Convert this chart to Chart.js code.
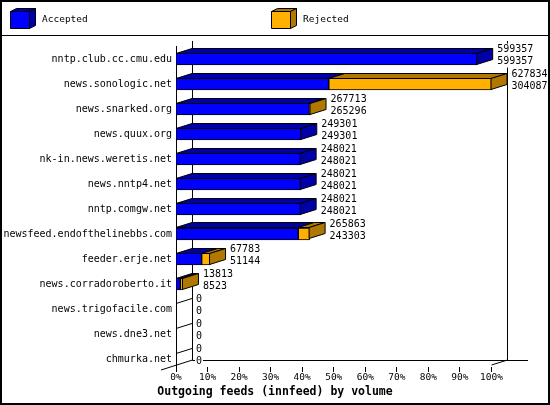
<!DOCTYPE html>
<html>
<head>
<meta charset="utf-8">
<script src="https://cdn.jsdelivr.net/npm/chart.js@4.4.1/dist/chart.umd.min.js"></script>
<style>
html, body { margin: 0; padding: 0; background: #fff; }
canvas { display: block; }
</style>
</head>
<body>
<canvas id="feedChart" width="550" height="405"></canvas>
<script>
var hosts = [
    'nntp.club.cc.cmu.edu',
    'news.sonologic.net',
    'news.snarked.org',
    'news.quux.org',
    'nk-in.news.weretis.net',
    'news.nntp4.net',
    'nntp.comgw.net',
    'newsfeed.endofthelinebbs.com',
    'feeder.erje.net',
    'news.corradoroberto.it',
    'news.trigofacile.com',
    'news.dne3.net',
    'chmurka.net'
];
var totalVolume = [599357, 627834, 267713, 249301, 248021, 248021, 248021, 265863, 67783, 13813, 0, 0, 0];
var acceptedVolume = [599357, 304087, 265296, 249301, 248021, 248021, 248021, 243303, 51144, 8523, 0, 0, 0];
var seriesNames = ['Accepted', 'Rejected'];
var percentTicks = [0, 10, 20, 30, 40, 50, 60, 70, 80, 90, 100];

var maxVolume = Math.max.apply(null, totalVolume);
var rejectedVolume = totalVolume.map(function(t, i) { return t - acceptedVolume[i]; });
var toPercent = function(v) { return v / maxVolume * 100; };

var DEPTH_X = 16, DEPTH_Y = 5;
var MONO = '"DejaVu Sans Mono", monospace';
var frontColors = ['#0000ff', '#ffb000'];
var sideColors = ['#0000a8', '#b07800'];

var crisp = function(v) { return Math.floor(v) + 0.5; };

var poly = function(ctx, pts, fill) {
    ctx.beginPath();
    ctx.moveTo(pts[0][0], pts[0][1]);
    for (var k = 1; k < pts.length; k++) ctx.lineTo(pts[k][0], pts[k][1]);
    ctx.closePath();
    if (fill) { ctx.fillStyle = fill; ctx.fill(); }
    ctx.stroke();
};

var box3d = {
    id: 'box3d',
    beforeDatasetsDraw: function(chart) {
        var ctx = chart.ctx, area = chart.chartArea, xs = chart.scales.x;
        var lastBar = chart.getDatasetMeta(0).data[hosts.length - 1];
        var floorFront = lastBar.y + lastBar.height / 2;
        var floorBack = floorFront - DEPTH_Y;
        var backLeft = crisp(area.left + DEPTH_X), backRight = crisp(area.right + DEPTH_X);
        ctx.save();
        ctx.strokeStyle = '#000';
        ctx.lineWidth = 1;
        ctx.beginPath();
        ctx.moveTo(backLeft, 41); ctx.lineTo(backLeft, crisp(floorBack));
        ctx.lineTo(528, crisp(floorBack));
        ctx.moveTo(backRight, 41); ctx.lineTo(backRight, crisp(floorBack));
        ctx.moveTo(area.left - DEPTH_X + 1, floorFront + DEPTH_Y); ctx.lineTo(backLeft, floorBack);
        ctx.moveTo(area.right, floorFront); ctx.lineTo(backRight, floorBack);
        percentTicks.forEach(function(v) {
            var px = crisp(xs.getPixelForValue(v));
            ctx.moveTo(px, floorFront + 2); ctx.lineTo(px, floorFront + 7);
        });
        ctx.stroke();
        ctx.restore();
    },
    afterDatasetsDraw: function(chart) {
        var ctx = chart.ctx;
        ctx.save();
        ctx.strokeStyle = '#000';
        ctx.lineWidth = 1;
        ctx.font = '10px ' + MONO;
        ctx.textBaseline = 'middle';
        ctx.textAlign = 'left';
        for (var i = 0; i < hosts.length; i++) {
            var segs = [];
            chart.data.datasets.forEach(function(ds, d) {
                var el = chart.getDatasetMeta(d).data[i];
                var p = el.getProps(['x', 'y', 'base', 'height'], true);
                if (ds.data[i] > 0) segs.push({ p: p, d: d });
            });
            var ref = chart.getDatasetMeta(0).data[i].getProps(['y', 'base', 'height'], true);
            var top = crisp(ref.y - ref.height / 2), bottom = crisp(ref.y + ref.height / 2) - 1;
            var end = ref.base;
            segs.forEach(function(s, n) {
                var x0 = s.p.base, x1 = s.p.x - 0.5;
                poly(ctx, [[x0, top], [x1, top], [x1 + DEPTH_X, top - DEPTH_Y], [x0 + DEPTH_X, top - DEPTH_Y]], sideColors[s.d]);
                if (n === segs.length - 1) {
                    poly(ctx, [[x1, top], [x1 + DEPTH_X, top - DEPTH_Y], [x1 + DEPTH_X, bottom - DEPTH_Y], [x1, bottom]], sideColors[s.d]);
                    end = s.p.x;
                }
            });
            if (!segs.length) {
                ctx.beginPath();
                ctx.moveTo(end, top);
                ctx.lineTo(end + DEPTH_X, top - DEPTH_Y);
                ctx.stroke();
            }
            var lx = end + DEPTH_X + 4;
            var lines = [String(totalVolume[i]), String(acceptedVolume[i])];
            lines.forEach(function(t, k) {
                var ly = ref.y - 9.5 + k * 12;
                var w = ctx.measureText(t).width;
                ctx.fillStyle = '#fff';
                ctx.fillRect(lx - 1, ly - 6, w + 2, 12);
                ctx.fillStyle = '#000';
                ctx.fillText(t, lx, ly);
            });
        }
        ctx.restore();
    },
    afterDraw: function(chart) {
        var ctx = chart.ctx;
        ctx.save();
        ctx.strokeStyle = '#000';
        ctx.lineWidth = 1;
        chart.data.datasets.forEach(function(ds, d) {
            var fx = 10.5 + d * 261, fy = 11.5, fw = 19, fh = 17;
            poly(ctx, [[fx, fy], [fx + 6, fy - 3], [fx + fw + 6, fy - 3], [fx + fw, fy]], sideColors[d]);
            poly(ctx, [[fx + fw, fy], [fx + fw + 6, fy - 3], [fx + fw + 6, fy + fh - 3], [fx + fw, fy + fh]], sideColors[d]);
            poly(ctx, [[fx, fy], [fx + fw, fy], [fx + fw, fy + fh], [fx, fy + fh]], ds.backgroundColor);
            ctx.fillStyle = '#000';
            ctx.font = '9.5px ' + MONO;
            ctx.textBaseline = 'middle';
            ctx.fillText(ds.label, fx + 31.5, 20);
        });
        ctx.beginPath();
        ctx.moveTo(0, 35.5); ctx.lineTo(550, 35.5);
        ctx.stroke();
        ctx.lineWidth = 2;
        ctx.strokeRect(1, 1, 548, 403);
        ctx.restore();
    }
};

new Chart(document.getElementById('feedChart'), {
    type: 'bar',
    data: {
        labels: hosts,
        datasets: [
            {
                label: seriesNames[0],
                data: acceptedVolume.map(toPercent),
                backgroundColor: frontColors[0],
                borderColor: '#000',
                borderWidth: 1,
                borderSkipped: false,
                barThickness: 12
            },
            {
                label: seriesNames[1],
                data: rejectedVolume.map(toPercent),
                backgroundColor: frontColors[1],
                borderColor: '#000',
                borderWidth: 1,
                borderSkipped: false,
                barThickness: 12
            }
        ]
    },
    options: {
        indexAxis: 'y',
        responsive: false,
        animation: false,
        layout: { padding: { top: 46.5, right: 0, left: 0, bottom: 0 } },
        scales: {
            x: {
                stacked: true,
                min: 0,
                max: 100,
                grid: { display: false, drawTicks: false },
                border: { display: false },
                afterFit: function(scale) { scale.height = 13.7; },
                afterBuildTicks: function(scale) {
                    scale.ticks = percentTicks.map(function(v) { return { value: v }; });
                },
                ticks: {
                    autoSkip: false,
                    maxRotation: 0,
                    padding: 0,
                    color: '#000',
                    font: { family: MONO, size: 9.5 },
                    callback: function(v) { return v + '%'; }
                }
            },
            y: {
                stacked: true,
                grid: { display: false, drawTicks: false },
                border: { display: true, color: '#000', width: 1 },
                afterFit: function(scale) { scale.width = 176; },
                ticks: {
                    autoSkip: false,
                    padding: 4,
                    color: '#000',
                    font: { family: MONO, size: 10 }
                }
            },
            // empty right-hand axis that only reserves room for the depth and value labels
            depth: {
                type: 'linear',
                axis: 'y',
                position: 'right',
                grid: { display: false, drawTicks: false },
                border: { display: false },
                ticks: { display: false },
                afterFit: function(scale) { scale.width = 58.5; }
            }
        },
        plugins: {
            legend: { display: false },
            tooltip: { enabled: false },
            title: {
                display: true,
                text: 'Outgoing feeds (innfeed) by volume',
                position: 'bottom',
                color: '#000',
                font: { family: MONO, size: 11.5, weight: 'bold' },
                padding: { top: 0, bottom: 6 }
            }
        }
    },
    plugins: [box3d]
});
</script>
</body>
</html>
